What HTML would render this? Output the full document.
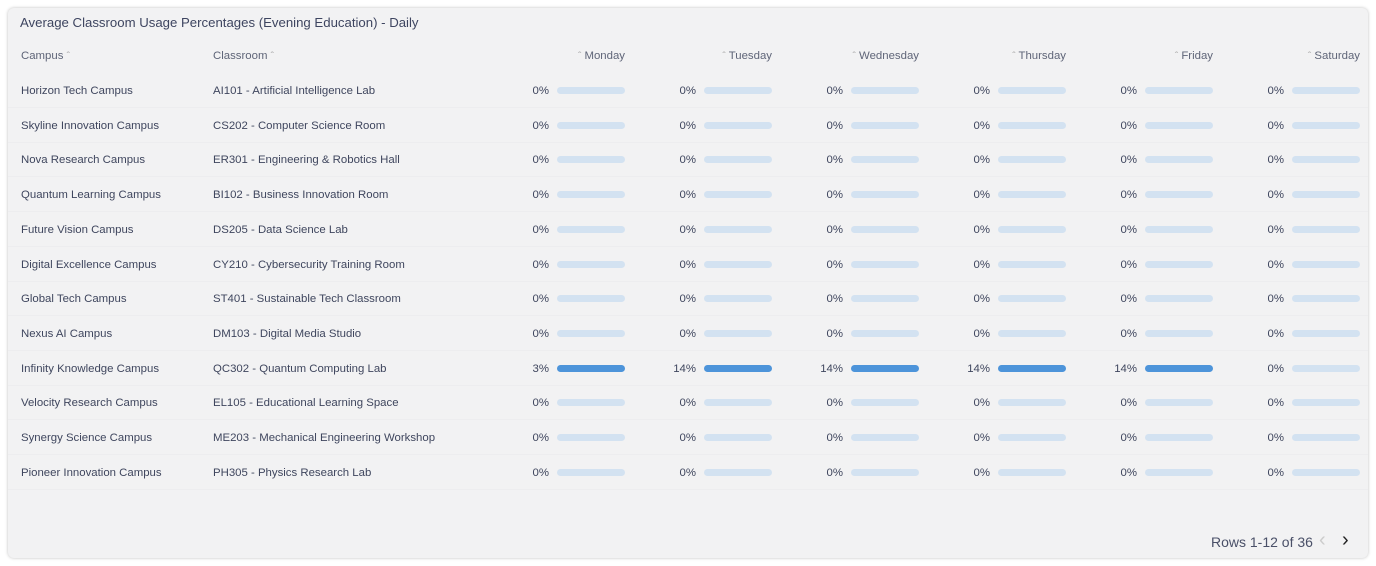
<!DOCTYPE html>
<html><head><style>
body{margin:0;width:1376px;height:566px;background:#fff;font-family:"Liberation Sans",sans-serif;position:relative;overflow:hidden}
.card{position:absolute;left:8px;top:8px;width:1360px;height:550px;background:#f2f2f3;border-radius:6px;box-shadow:0 0 3px rgba(0,0,0,.25)}
.t{position:absolute;white-space:nowrap;font-size:11.4px;color:#3f465e}
.h{color:#5f6578;font-size:11.4px}
.row{position:absolute;left:8px;width:1360px;height:1px;background:#ededef}
.bar{position:absolute;width:68px;height:7px;border-radius:4px;background:#d3e2f1}
.bar.on{background:#4d94da}
.pct{text-align:right;width:40px}
</style></head><body>
<div class="card"></div>
<div class="t" style="left:20px;top:15px;font-size:13.2px;color:#3e4560">Average Classroom Usage Percentages (Evening Education) - Daily</div>
<div class="t h" style="left:21px;top:50px">Campus <span style="color:#aaa;font-size:10px">&#710;</span></div>
<div class="t h" style="left:213px;top:50px">Classroom <span style="color:#aaa;font-size:10px">&#710;</span></div>
<div id="x"></div>
<div class="t" style="left:1211px;top:534px;font-size:14px;color:#4a5068">Rows 1-12 of 36</div>
<div class="t" style="left:1319px;top:529px;font-size:20px;color:#ccc">&#8249;</div>
<div class="t" style="left:1342px;top:529px;font-size:20px;color:#222">&#8250;</div>
<script>
var days=["Monday","Tuesday","Wednesday","Thursday","Friday","Saturday"];
var c=[["Horizon Tech Campus","AI101 - Artificial Intelligence Lab"],["Skyline Innovation Campus","CS202 - Computer Science Room"],["Nova Research Campus","ER301 - Engineering & Robotics Hall"],["Quantum Learning Campus","BI102 - Business Innovation Room"],["Future Vision Campus","DS205 - Data Science Lab"],["Digital Excellence Campus","CY210 - Cybersecurity Training Room"],["Global Tech Campus","ST401 - Sustainable Tech Classroom"],["Nexus AI Campus","DM103 - Digital Media Studio"],["Infinity Knowledge Campus","QC302 - Quantum Computing Lab"],["Velocity Research Campus","EL105 - Educational Learning Space"],["Synergy Science Campus","ME203 - Mechanical Engineering Workshop"],["Pioneer Innovation Campus","PH305 - Physics Research Lab"]];
var h="";
days.forEach(function(d,i){var r=625+147*i;h+='<div class="t h" style="right:'+(1376-r)+'px;top:50px"><span style="color:#aaa;font-size:10px">&#710;</span> '+d+'</div>';});
c.forEach(function(r,j){var y=90+34.7*j;
h+='<div class="row" style="top:'+(y+17)+'px"></div>';
h+='<div class="t" style="left:21px;top:'+(y-5)+'px">'+r[0].replace("&","&amp;")+'</div>';
h+='<div class="t" style="left:213px;top:'+(y-5)+'px">'+r[1].replace("&","&amp;")+'</div>';
for(var i=0;i<6;i++){var bx=557+147*i;var v="0%",on=false;if(j==8&&i<5){v=i==0?"3%":"14%";on=true;}
h+='<div class="t pct" style="left:'+(bx-48)+'px;top:'+(y-5)+'px">'+v+'</div>';
h+='<div class="bar'+(on?' on':'')+'" style="left:'+bx+'px;top:'+(y-3)+'px"></div>';}
});
document.getElementById("x").innerHTML=h;
</script>
</body></html>
